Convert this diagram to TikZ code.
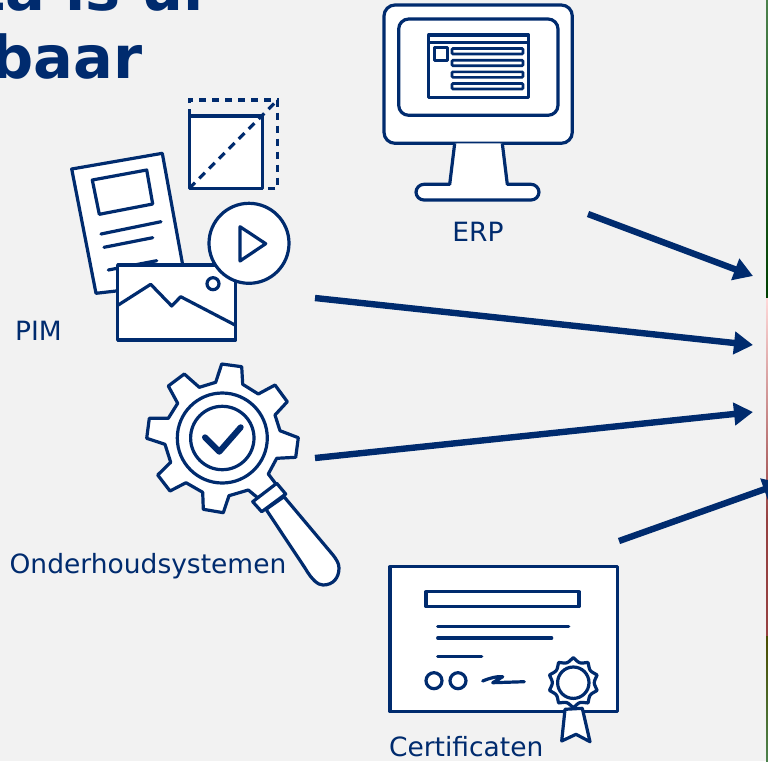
\documentclass[tikz,border=0pt]{standalone}
\usepackage{fontspec}
\setmainfont{DejaVu Sans}
\usetikzlibrary{positioning, arrows.meta}
\definecolor{navy}{HTML}{002B6E}
\definecolor{pagebg}{HTML}{F2F2F2}
\tikzstyle{icon} = [draw=navy, line width=3.2pt, fill=white, line join=round]
\tikzstyle{stroke} = [draw=navy, line width=3.2pt, line join=round]
\tikzstyle{thinline} = [draw=navy, line width=3.2pt, line cap=round]
\tikzstyle{label} = [text=navy, font=\fontsize{26.5}{30}\selectfont, inner sep=0pt]
\tikzstyle{heading} = [anchor=base west, text=navy, font=\fontsize{59}{60}\bfseries\selectfont, inner sep=0pt]
\tikzstyle{flow} = [draw=navy, line width=6.4pt, -{Triangle[length=19pt,width=22pt]}]

\begin{document}
\begin{tikzpicture}[x=1pt, y=-1pt]
\useasboundingbox (0,0) rectangle (768,761);
\fill[pagebg] (0,0) rectangle (768,761);
% photo edge
\shade[top color=green!30!black!70, bottom color=black!75!green] (766,0) rectangle (768,298);
\shade[top color=red!15!white, bottom color=red!45!black!75] (766,298) rectangle (768,520);
\fill[red!45!black!75] (766,520) rectangle (768,636);
\shade[top color=black!70!yellow, bottom color=green!30!black!70] (766,636) rectangle (768,761);

% title
\node (title1) [heading] at (-23,10) {ta is ui};
\node (title2) [heading] at (-9,78) {baar};

% ERP
\draw[icon, rounded corners=11pt] (384,5) rectangle (572.3,143.3);
\draw[stroke, rounded corners=10pt] (398.7,19) rectangle (558,115.3);
\draw[icon] (454.7,143.3) -- (449.7,184.3) [rounded corners=8pt] -- (416,184.3) -- (416,200) -- (539,200) -- (539,184.3) [sharp corners] -- (507.3,184.3) -- (502.3,143.3);
\draw[stroke] (428.7,35) rectangle (528.7,97.7) (428.7,42.3) -- (528.7,42.3);
\draw[stroke] (434.7,47.7) rectangle (447.3,60.3);
\foreach \y in {48.5,60.2,71.8,83.5}
  \draw[navy, line width=2.6pt, rounded corners=1pt] (452,\y) rectangle (523,\y+5.5);
\node (erp) [label, anchor=base] at (478,241) {ERP};

% PIM
\draw[icon] (71.7,169) -- (162.3,153.3) -- (186,283) -- (96,293.3) -- cycle;
\draw[stroke] (92.3,180) -- (146.7,170) -- (152.7,204) -- (99.3,214.3) -- cycle;
\draw[thinline] (101,234) -- (161,221.7);
\draw[thinline] (104,247.3) -- (152.7,237.7);
\draw[thinline] (108.3,270) -- (156.7,260.7);
\draw[icon] (189.3,116) rectangle (262.3,188.3);
\draw[navy, line width=3.2pt, dash pattern=on 7pt off 6pt] (189.3,116) -- (189.3,100) -- (277.7,100) -- (277.7,188.3) -- (262.3,188.3);
\draw[navy, line width=3.2pt, dash pattern=on 8pt off 6pt] (189.3,188.3) -- (277.7,100);
\draw[icon] (117.7,265) rectangle (235.7,340);
\draw[stroke] (118.3,305) -- (150.7,284.3) -- (171.7,306) -- (180.7,296.7) -- (235,325);
\draw[stroke] (213,283.7) circle (6pt);
\node (play) [circle, icon, minimum size=80pt, inner sep=0pt] at (249,243.3) {};
\draw[stroke] (240,226.7) -- (265.7,243.7) -- (240,261) -- cycle;
\node (pim) [label, anchor=base] at (38.5,340) {PIM};

% Onderhoud
\draw[icon] (221.7,364) -- (241.7,366.7) -- (242.7,384.3) -- (258.3,394) -- (275,385) -- (287.3,401.7) -- (275,415) -- (280,430.7) -- (298.3,437.7) -- (295.7,457.3) -- (276.7,458.3) -- (268.3,474) -- (276.7,485) -- (258,498) -- (248.3,490) -- (229,495.7) -- (223.3,512.7) -- (203.3,509.3) -- (202.7,492.3) -- (186,482.7) -- (170,491) -- (157.7,475) -- (170.7,462.3) -- (165,444.3) -- (146.7,438.3) -- (149.3,418.3) -- (168.3,418.3) -- (177.7,403.3) -- (168.3,386) -- (184.3,374) -- (199.3,387.3) -- (215.7,382.3) -- cycle;
\draw[icon] (266,509.3) -- (305,568) .. controls (312,580) and (318,585) .. (323,585) .. controls (333,585) and (339,578) .. (339,568) .. controls (339,563) and (336,559) .. (333,555) -- (284,496.7) -- cycle;
\draw[icon] (252.7,501.7) -- (276.7,483.3) -- (285.7,494) -- (261.7,511.7) -- cycle;
\draw[stroke] (222.3,438) circle (45pt);
\draw[stroke] (222.3,438) circle (31.7pt);
\draw[navy, line width=6pt, line cap=round, line join=round] (205,437.3) -- (219.3,451.7) -- (240.7,427.3);
\node (ond) [label, anchor=base] at (148,573) {Onderhoudsystemen};

% Certificaten
\draw[icon] (390,566.7) rectangle (617.3,711.7);
\draw[stroke] (426,591.7) rectangle (579,606.7);
\draw[thinline] (437.7,626.7) -- (568.7,626.7);
\draw[thinline] (437.7,638) -- (551.7,638);
\draw[thinline] (437.7,656.7) -- (481.7,656.7);
\draw[stroke] (434,680.7) circle (8pt);
\draw[stroke] (458,680.7) circle (8pt);
\draw[thinline, line join=round] (482.7,681) .. controls (490,678) and (497,676) .. (502.7,676.7) -- (492.7,682.7) -- (524.3,681.7);
\draw[icon] (565,709.3) -- (561.7,741) -- (576,734.3) -- (590,741.7) -- (582.3,708.3) -- cycle;
\draw[icon] plot[domain=0:360, samples=181] ({573.3+(25-4*abs(cos(5*\x)))*cos(\x)}, {682.7+(25-4*abs(cos(5*\x)))*sin(\x)}) -- cycle;
\draw[stroke] (573.3,682.7) circle (15.7pt);
\node (cert) [label, anchor=base west] at (388.8,756) {Certificaten};

% arrows
\coordinate (a1) at (588,214);
\coordinate (b1) at (753,276);
\draw[flow] (a1) -- (b1);
\coordinate (a2) at (315,298);
\coordinate (b2) at (753,345);
\draw[flow] (a2) -- (b2);
\coordinate (a3) at (315,458);
\coordinate (b3) at (753,412);
\draw[flow] (a3) -- (b3);
\coordinate (a4) at (619,541);
\coordinate (b4) at (782,483);
\draw[flow] (a4) -- (b4);
\end{tikzpicture}
\end{document}
